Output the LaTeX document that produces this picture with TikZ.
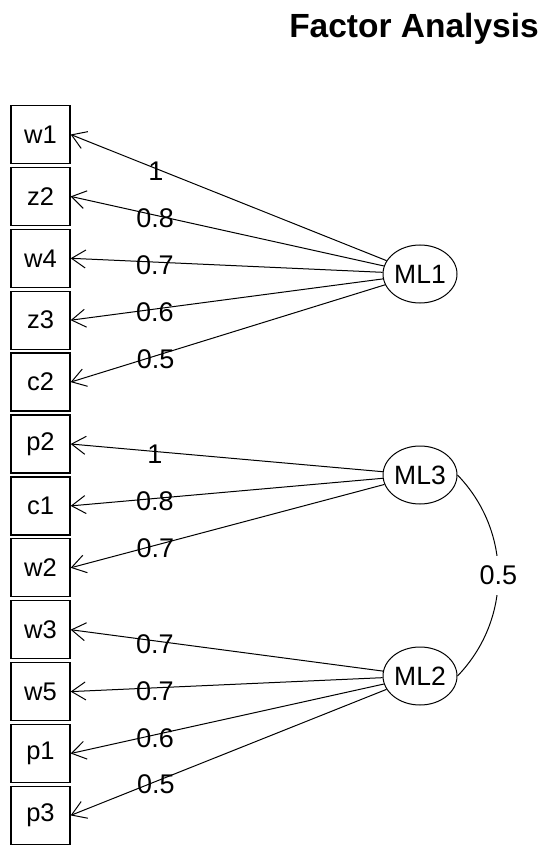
\documentclass[tikz,border=0pt]{standalone}
\usepackage{fontspec}
\setmainfont{Liberation Sans}
\usetikzlibrary{shapes.geometric,arrows.meta}
\begin{document}
\begin{tikzpicture}[x=1pt,y=-1pt,
 box/.style={draw, line width=1.3pt, minimum width=59pt, minimum height=58pt, inner sep=0pt, font=\fontsize{25.5}{30}\selectfont},
 fac/.style={draw, ellipse, line width=1pt, minimum width=74pt, minimum height=58pt, inner sep=0pt, font=\fontsize{26.5}{31}\selectfont},
 arr/.style={line width=1pt, -{Straight Barb[length=14pt,width=18pt,line width=1pt]}},
 lbl/.style={font=\fontsize{27}{32}\selectfont, inner sep=0pt},
 ld/.style={lbl, yshift=-3pt},
 ttl/.style={font=\bfseries\fontsize{33.5}{40}\selectfont, inner sep=0pt},
]
\useasboundingbox[fill=white] (0,0) rectangle (550,858);
\node[ttl] (title) at (414,29) {Factor Analysis};
\foreach \n [count=\i from 0] in {w1,z2,w4,z3,c2,p2,c1,w2,w3,w5,p1,p3}
  \node[box] (\n) at (40.5,134.5+61.9*\i) {\n};
\node[fac] (ML1) at (420,274) {ML1};
\node[fac] (ML3) at (420,475) {ML3};
\node[fac] (ML2) at (420,676) {ML2};
\draw[arr] (ML1) -- node[ld,pos=0.73] {1} (w1.east);
\draw[arr] (ML1) -- node[ld,pos=0.73] {0.8} (z2.east);
\draw[arr] (ML1) -- node[ld,pos=0.73] {0.7} (w4.east);
\draw[arr] (ML1) -- node[ld,pos=0.73] {0.6} (z3.east);
\draw[arr] (ML1) -- node[ld,pos=0.73] {0.5} (c2.east);
\draw[arr] (ML3) -- node[ld,pos=0.73] {1} (p2.east);
\draw[arr] (ML3) -- node[ld,pos=0.73] {0.8} (c1.east);
\draw[arr] (ML3) -- node[ld,pos=0.73] {0.7} (w2.east);
\draw[arr] (ML2) -- node[ld,pos=0.73] {0.7} (w3.east);
\draw[arr] (ML2) -- node[ld,pos=0.73] {0.7} (w5.east);
\draw[arr] (ML2) -- node[ld,pos=0.73] {0.6} (p1.east);
\draw[arr] (ML2) -- node[ld,pos=0.73] {0.5} (p3.east);
\draw[line width=1pt] (ML3.east) to[bend left=44] node[lbl,fill=white,inner xsep=2pt,inner ysep=10pt] (r) {0.5} (ML2.east);
\end{tikzpicture}
\end{document}
